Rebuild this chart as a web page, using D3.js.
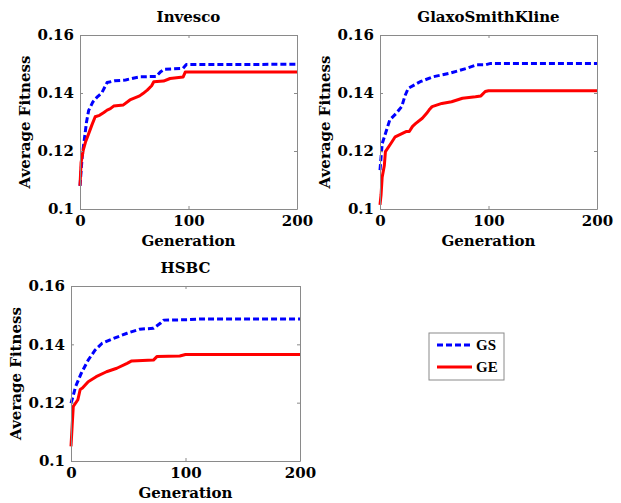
<!DOCTYPE html>
<html>
<head>
<meta charset="utf-8">
<script src="https://cdn.jsdelivr.net/npm/d3@7"></script>
<style>
  body { margin: 0; background: #fff; }
  svg text { font-family: "DejaVu Serif", "Liberation Serif", serif; font-weight: bold; fill: #000; }
</style>
</head>
<body>
<div id="chart"></div>
<script>
// ── Data ─────────────────────────────────────────────────────────────────────
const TITLES = ['Invesco', 'GlaxoSmithKline', 'HSBC'];
const X_TICKS = [0, 100, 200];
const Y_TICKS = [0.1, 0.12, 0.14, 0.16];
const SERIES_NAMES = ['GS', 'GE'];

// [generation, average fitness]
const invescoGS = [[0, 0.108], [1, 0.113], [2, 0.118], [4, 0.124], [6, 0.130], [8, 0.134], [12, 0.137], [16, 0.1387], [20, 0.140], [25, 0.1436], [32, 0.1442], [42, 0.1445], [50, 0.1452], [56, 0.1456], [70, 0.1457], [74, 0.1472], [78, 0.1482], [95, 0.1485], [98, 0.1498], [200, 0.1499]];
const invescoGE = [[0, 0.108], [1, 0.116], [3, 0.1203], [5, 0.123], [8, 0.126], [11, 0.129], [14, 0.1318], [18, 0.1323], [22, 0.1333], [25, 0.1341], [28, 0.1346], [31, 0.1355], [40, 0.1359], [46, 0.1376], [55, 0.139], [58, 0.1398], [62, 0.141], [66, 0.1425], [68, 0.1439], [77, 0.1441], [83, 0.145], [95, 0.1455], [97, 0.1472], [200, 0.1472]];

const gskGS = [[0, 0.1134], [1, 0.118], [2, 0.1225], [5, 0.126], [9, 0.1307], [15, 0.133], [20, 0.1353], [23, 0.139], [26, 0.1416], [37, 0.1439], [49, 0.1456], [64, 0.1468], [80, 0.1485], [89, 0.1497], [97, 0.1497], [102, 0.1502], [200, 0.1502]];
const gskGE = [[0, 0.1014], [1, 0.105], [2, 0.111], [4, 0.115], [5, 0.1198], [10, 0.1226], [14, 0.1249], [24, 0.1267], [27, 0.1267], [30, 0.1285], [33, 0.1295], [39, 0.1313], [43, 0.133], [46, 0.1345], [48, 0.1353], [57, 0.1364], [66, 0.137], [76, 0.1382], [88, 0.1387], [93, 0.139], [97, 0.1405], [100, 0.1408], [200, 0.1408]];

const hsbcGS = [[0, 0.1198], [2, 0.1225], [4, 0.1255], [9, 0.1301], [15, 0.1346], [21, 0.138], [27, 0.1403], [37, 0.142], [49, 0.1438], [60, 0.1452], [72, 0.1455], [78, 0.1472], [81, 0.1483], [98, 0.1484], [113, 0.1487], [200, 0.1487]];
const hsbcGE = [[0, 0.105], [1, 0.112], [2, 0.1187], [6, 0.121], [8, 0.1245], [10, 0.125], [15, 0.1272], [22, 0.1289], [31, 0.1306], [40, 0.1318], [49, 0.1335], [53, 0.1343], [72, 0.1346], [75, 0.1358], [95, 0.136], [100, 0.1365], [200, 0.1365]];

const PANEL_DATA = [[invescoGS, invescoGE], [gskGS, gskGE], [hsbcGS, hsbcGE]];

// ── Layout / style ───────────────────────────────────────────────────────────
const W = 621, H = 503;
const PANELS = [
  { x0: 80,  x1: 297, y0: 35,  y1: 209 },
  { x0: 380, x1: 597, y0: 35,  y1: 209 },
  { x0: 71,  x1: 300, y0: 286, y1: 461 },
];
const STYLE = [
  { color: '#0000ff', dash: '6,3' },
  { color: '#ff0000', dash: null },
];
const AXIS_COLOR = '#8a8a8a';
const FONT_SIZE = 15;

const svg = d3.select('#chart').append('svg')
  .attr('width', W).attr('height', H);

PANELS.forEach((p, i) => {
  const x = d3.scaleLinear().domain([0, 200]).range([p.x0, p.x1]);
  const y = d3.scaleLinear().domain([0.1, 0.16]).range([p.y1, p.y0]);
  const g = svg.append('g');

  // lines first, box on top
  const line = d3.line().x(d => x(d[0])).y(d => y(d[1]));
  PANEL_DATA[i].forEach((series, k) => {
    g.append('path')
      .attr('d', line(series))
      .attr('fill', 'none')
      .attr('stroke', STYLE[k].color)
      .attr('stroke-width', 3)
      .attr('stroke-dasharray', STYLE[k].dash)
      .attr('stroke-linejoin', 'round');
  });

  const fmt = d3.format('~g');
  const styleAxis = sel => {
    sel.select('.domain').attr('stroke', AXIS_COLOR);
    sel.selectAll('.tick line').attr('stroke', AXIS_COLOR);
    sel.selectAll('.tick text')
      .attr('font-size', FONT_SIZE)
      .style('font-family', '"DejaVu Serif", serif')
      .style('font-weight', 'bold');
  };

  g.append('g').attr('transform', `translate(${p.x0},0)`)
    .call(d3.axisLeft(y).tickValues(Y_TICKS).tickFormat(fmt).tickSizeInner(-3).tickSizeOuter(0).tickPadding(6))
    .call(styleAxis);
  g.append('g').attr('transform', `translate(${p.x1},0)`)
    .call(d3.axisRight(y).tickValues(Y_TICKS).tickFormat('').tickSizeInner(-3).tickSizeOuter(0))
    .call(styleAxis);
  g.append('g').attr('transform', `translate(0,${p.y1})`)
    .call(d3.axisBottom(x).tickValues(X_TICKS).tickFormat(fmt).tickSizeInner(-3).tickSizeOuter(0).tickPadding(6))
    .call(styleAxis);
  g.append('g').attr('transform', `translate(0,${p.y0})`)
    .call(d3.axisTop(x).tickValues(X_TICKS).tickFormat('').tickSizeInner(-3).tickSizeOuter(0))
    .call(styleAxis);

  const cx = (p.x0 + p.x1) / 2;
  g.append('text')
    .attr('x', cx).attr('y', p.y0 - 13)
    .attr('text-anchor', 'middle').attr('font-size', FONT_SIZE)
    .text(TITLES[i]);
  g.append('text')
    .attr('x', cx).attr('y', p.y1 + 37)
    .attr('text-anchor', 'middle').attr('font-size', FONT_SIZE)
    .text('Generation');
  g.append('text')
    .attr('transform', `translate(${p.x0 - 50},${(p.y0 + p.y1) / 2}) rotate(-90)`)
    .attr('text-anchor', 'middle').attr('font-size', FONT_SIZE)
    .text('Average Fitness');
});

// ── Legend ───────────────────────────────────────────────────────────────────
const lg = svg.append('g').attr('transform', 'translate(429,333)');
lg.append('rect')
  .attr('width', 75).attr('height', 47)
  .attr('fill', '#fff').attr('stroke', AXIS_COLOR);
SERIES_NAMES.forEach((name, k) => {
  const ly = 12 + k * 22;
  lg.append('line')
    .attr('x1', 8).attr('x2', 43).attr('y1', ly).attr('y2', ly)
    .attr('stroke', STYLE[k].color).attr('stroke-width', 3)
    .attr('stroke-dasharray', STYLE[k].dash);
  lg.append('text')
    .attr('x', 47).attr('y', ly).attr('dy', '0.35em')
    .attr('font-size', 15)
    .style('font-family', '"Liberation Serif", serif')
    .text(name);
});
</script>
</body>
</html>
